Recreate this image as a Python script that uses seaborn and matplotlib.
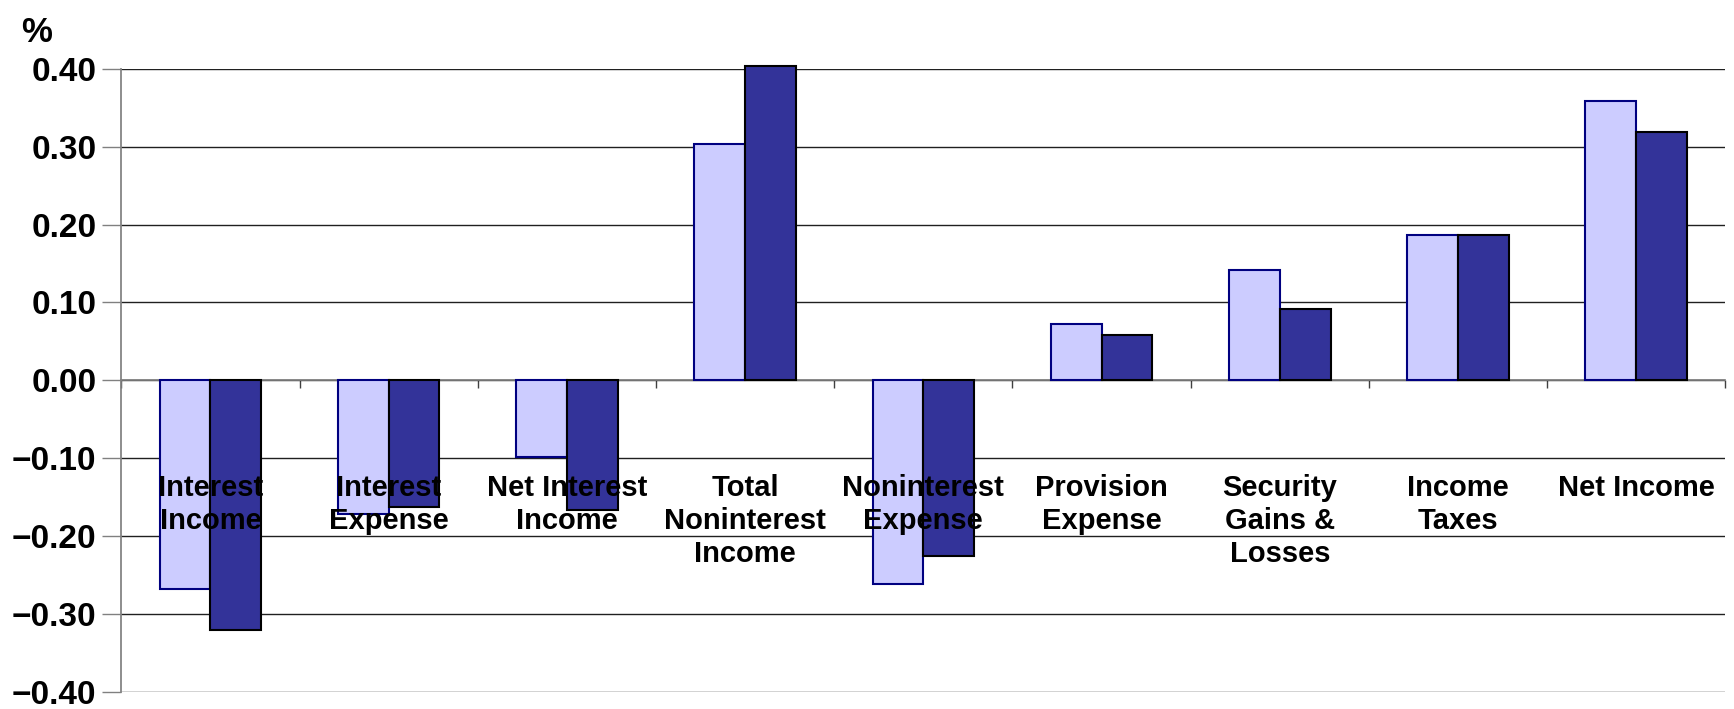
import numpy as np
import pandas as pd
import matplotlib
matplotlib.use("Agg")
import matplotlib.pyplot as plt
import seaborn as sns

# ---- data ----
categories = ["Interest\nIncome", "Interest\nExpense", "Net Interest\nIncome",
              "Total\nNoninterest\nIncome", "Noninterest\nExpense", "Provision\nExpense",
              "Security\nGains &\nLosses", "Income\nTaxes", "Net Income"]
series_names = ["Series 1", "Series 2"]
series1 = [-0.268, -0.172, -0.098, 0.304, -0.261, 0.072, 0.142, 0.186, 0.359]
series2 = [-0.320, -0.162, -0.167, 0.404, -0.226, 0.058, 0.091, 0.187, 0.319]
y_ticks = [-0.40, -0.30, -0.20, -0.10, 0.00, 0.10, 0.20, 0.30, 0.40]

df = pd.DataFrame({
    "category": categories * 2,
    "series": [series_names[0]] * len(categories) + [series_names[1]] * len(categories),
    "value": series1 + series2,
})

sns.set_theme(style="white")
plt.rcParams['font.family'] = ['Liberation Sans', 'DejaVu Sans']
plt.rcParams['text.color'] = 'black'
plt.rcParams['xtick.color'] = 'black'
plt.rcParams['ytick.color'] = 'black'

fig = plt.figure(figsize=(17.34, 7.09), dpi=100)
ax = fig.add_axes([0.070, 0.024, 0.925, 0.879])

sns.barplot(data=df, x="category", y="value", hue="series", order=categories,
            hue_order=series_names, palette=["#CCCCFF", "#333399"], saturation=1,
            width=0.57, legend=False, ax=ax, errorbar=None)

# edge colours per series
for cont, ec in zip(ax.containers, ["#000080", "#000000"]):
    for bar in cont:
        bar.set_edgecolor(ec)
        bar.set_linewidth(1.5)
        bar.set_clip_on(False)
        bar.set_zorder(3)

ax.set_ylim(-0.40, 0.40)
ax.set_xlim(-0.5, len(categories) - 0.5)
ax.set_yticks(y_ticks)
ax.set_yticklabels([f"{v:.2f}".replace("-", "\u2212") for v in y_ticks],
                   fontsize=24, fontweight="bold", color="black")
ax.tick_params(axis="y", which="major", direction="out", length=14, width=1,
               color="#808080", pad=4, left=True)
ax.yaxis.grid(True, color="#202020", linewidth=1)
ax.set_axisbelow(True)

# x axis at zero line, small ticks between categories
ax.spines["bottom"].set_position(("data", 0))
ax.spines["bottom"].set_color("#808080")
ax.spines["top"].set_visible(False)
ax.spines["right"].set_visible(False)
ax.spines["left"].set_color("#808080")
ax.set_xticks(np.arange(len(categories)))
ax.set_xticklabels([])
ax.tick_params(axis="x", which="major", length=0)
ax.set_xticks(np.arange(len(categories) + 1) - 0.5, minor=True)
ax.tick_params(axis="x", which="minor", direction="out", length=6, width=1,
               color="#404040", bottom=True)

for i, lab in enumerate(categories):
    ax.text(i, -0.120, lab, ha="center", va="top", fontsize=21, color="black",
            fontweight="bold", linespacing=1.22, zorder=5)

ax.set_xlabel("")
ax.set_ylabel("")
fig.text(0.012, 0.978, "%", fontsize=25, fontweight="bold", va="top", ha="left")

fig.savefig("out.png", dpi=100)
